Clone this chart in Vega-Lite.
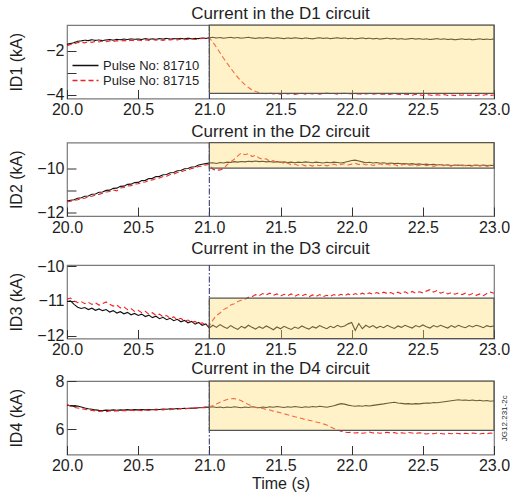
{
"$schema": "https://vega.github.io/schema/vega-lite/v6.json",
"background": "white",
"padding": {"left": 7, "top": 4, "right": 2, "bottom": 0},
"config": {
"font": "Liberation Sans",
"view": {"stroke": "#7a7a7a", "strokeWidth": 1.2},
"title": {"fontSize": 17, "fontWeight": "normal", "color": "#1e1e1e", "offset": 1, "frame": "group"},
"axis": {"grid": false, "domain": false, "tickSize": -9, "tickColor": "#333333", "tickWidth": 1, "labelPadding": 12, "labelFontSize": 16, "labelColor": "#1e1e1e", "titleFontSize": 16, "titleFontWeight": "normal", "titleColor": "#1e1e1e", "labelFlush": false, "labelOverlap": false},
"axisX": {"labelPadding": 12}
},
"resolve": {"scale": {"color": "independent", "strokeDash": "independent"}},
"spacing": 0,
"datasets": {
"d1a": [{"t":20,"v":-1.72},{"t":20.025,"v":-1.68},{"t":20.05,"v":-1.64},{"t":20.075,"v":-1.58},{"t":20.1,"v":-1.56},{"t":20.125,"v":-1.53},{"t":20.15,"v":-1.55},{"t":20.175,"v":-1.51},{"t":20.2,"v":-1.54},{"t":20.225,"v":-1.52},
{"t":20.25,"v":-1.55},{"t":20.275,"v":-1.52},{"t":20.3,"v":-1.50},{"t":20.325,"v":-1.53},{"t":20.35,"v":-1.49},{"t":20.375,"v":-1.51},{"t":20.4,"v":-1.48},{"t":20.425,"v":-1.50},{"t":20.45,"v":-1.47},{"t":20.475,"v":-1.49},
{"t":20.5,"v":-1.48},{"t":20.525,"v":-1.50},{"t":20.55,"v":-1.46},{"t":20.575,"v":-1.49},{"t":20.6,"v":-1.47},{"t":20.625,"v":-1.49},{"t":20.65,"v":-1.46},{"t":20.675,"v":-1.48},{"t":20.7,"v":-1.45},{"t":20.725,"v":-1.48},
{"t":20.75,"v":-1.46},{"t":20.775,"v":-1.47},{"t":20.8,"v":-1.45},{"t":20.825,"v":-1.47},{"t":20.85,"v":-1.44},{"t":20.875,"v":-1.47},{"t":20.9,"v":-1.45},{"t":20.925,"v":-1.46},{"t":20.95,"v":-1.43},{"t":20.975,"v":-1.45},
{"t":21,"v":-1.42},{"t":21.025,"v":-1.40},{"t":21.05,"v":-1.43},{"t":21.075,"v":-1.41},{"t":21.1,"v":-1.44},{"t":21.125,"v":-1.42},{"t":21.15,"v":-1.40},{"t":21.175,"v":-1.43},{"t":21.2,"v":-1.41},{"t":21.225,"v":-1.44},
{"t":21.25,"v":-1.42},{"t":21.275,"v":-1.40},{"t":21.3,"v":-1.43},{"t":21.325,"v":-1.45},{"t":21.35,"v":-1.42},{"t":21.375,"v":-1.44},{"t":21.4,"v":-1.41},{"t":21.425,"v":-1.43},{"t":21.45,"v":-1.45},{"t":21.475,"v":-1.42},
{"t":21.5,"v":-1.44},{"t":21.525,"v":-1.46},{"t":21.55,"v":-1.43},{"t":21.575,"v":-1.45},{"t":21.6,"v":-1.42},{"t":21.625,"v":-1.44},{"t":21.65,"v":-1.46},{"t":21.675,"v":-1.43},{"t":21.7,"v":-1.45},{"t":21.725,"v":-1.47},
{"t":21.75,"v":-1.44},{"t":21.775,"v":-1.42},{"t":21.8,"v":-1.45},{"t":21.825,"v":-1.43},{"t":21.85,"v":-1.46},{"t":21.875,"v":-1.44},{"t":21.9,"v":-1.42},{"t":21.925,"v":-1.45},{"t":21.95,"v":-1.43},{"t":21.975,"v":-1.46},
{"t":22,"v":-1.44},{"t":22.025,"v":-1.47},{"t":22.05,"v":-1.45},{"t":22.075,"v":-1.43},{"t":22.1,"v":-1.46},{"t":22.125,"v":-1.44},{"t":22.15,"v":-1.47},{"t":22.175,"v":-1.45},{"t":22.2,"v":-1.48},{"t":22.225,"v":-1.46},
{"t":22.25,"v":-1.44},{"t":22.275,"v":-1.47},{"t":22.3,"v":-1.45},{"t":22.325,"v":-1.48},{"t":22.35,"v":-1.46},{"t":22.375,"v":-1.49},{"t":22.4,"v":-1.47},{"t":22.425,"v":-1.45},{"t":22.45,"v":-1.48},{"t":22.475,"v":-1.46},
{"t":22.5,"v":-1.49},{"t":22.525,"v":-1.47},{"t":22.55,"v":-1.50},{"t":22.575,"v":-1.48},{"t":22.6,"v":-1.46},{"t":22.625,"v":-1.49},{"t":22.65,"v":-1.47},{"t":22.675,"v":-1.50},{"t":22.7,"v":-1.48},{"t":22.725,"v":-1.51},
{"t":22.75,"v":-1.49},{"t":22.775,"v":-1.47},{"t":22.8,"v":-1.50},{"t":22.825,"v":-1.48},{"t":22.85,"v":-1.51},{"t":22.875,"v":-1.49},{"t":22.9,"v":-1.47},{"t":22.925,"v":-1.50},{"t":22.95,"v":-1.48},{"t":22.975,"v":-1.50},
{"t":23,"v":-1.47}],
"d1b": [{"t":20,"v":-1.78},{"t":20.025,"v":-1.72},{"t":20.05,"v":-1.70},{"t":20.075,"v":-1.64},{"t":20.1,"v":-1.62},{"t":20.125,"v":-1.65},{"t":20.15,"v":-1.60},{"t":20.175,"v":-1.63},{"t":20.2,"v":-1.58},{"t":20.225,"v":-1.61},
{"t":20.25,"v":-1.57},{"t":20.275,"v":-1.60},{"t":20.3,"v":-1.56},{"t":20.325,"v":-1.59},{"t":20.35,"v":-1.55},{"t":20.375,"v":-1.58},{"t":20.4,"v":-1.54},{"t":20.425,"v":-1.57},{"t":20.45,"v":-1.53},{"t":20.475,"v":-1.56},
{"t":20.5,"v":-1.52},{"t":20.525,"v":-1.55},{"t":20.55,"v":-1.51},{"t":20.575,"v":-1.54},{"t":20.6,"v":-1.50},{"t":20.625,"v":-1.53},{"t":20.65,"v":-1.51},{"t":20.675,"v":-1.54},{"t":20.7,"v":-1.50},{"t":20.725,"v":-1.52},
{"t":20.75,"v":-1.49},{"t":20.775,"v":-1.52},{"t":20.8,"v":-1.48},{"t":20.825,"v":-1.51},{"t":20.85,"v":-1.49},{"t":20.875,"v":-1.47},{"t":20.9,"v":-1.50},{"t":20.925,"v":-1.47},{"t":20.95,"v":-1.45},{"t":20.975,"v":-1.43},
{"t":21,"v":-1.42},{"t":21.025,"v":-1.62},{"t":21.05,"v":-1.85},{"t":21.075,"v":-2.10},{"t":21.1,"v":-2.35},{"t":21.125,"v":-2.58},{"t":21.15,"v":-2.80},{"t":21.175,"v":-3.02},{"t":21.2,"v":-3.22},{"t":21.225,"v":-3.40},
{"t":21.25,"v":-3.55},{"t":21.275,"v":-3.68},{"t":21.3,"v":-3.79},{"t":21.325,"v":-3.86},{"t":21.35,"v":-3.91},{"t":21.375,"v":-3.94},{"t":21.4,"v":-3.96},{"t":21.425,"v":-3.93},{"t":21.45,"v":-3.97},{"t":21.475,"v":-3.95},
{"t":21.5,"v":-3.98},{"t":21.525,"v":-3.94},{"t":21.55,"v":-3.97},{"t":21.575,"v":-3.95},{"t":21.6,"v":-3.99},{"t":21.625,"v":-3.96},{"t":21.65,"v":-3.94},{"t":21.675,"v":-3.98},{"t":21.7,"v":-3.95},{"t":21.725,"v":-3.97},
{"t":21.75,"v":-3.94},{"t":21.775,"v":-3.98},{"t":21.8,"v":-3.96},{"t":21.825,"v":-3.93},{"t":21.85,"v":-3.97},{"t":21.875,"v":-3.95},{"t":21.9,"v":-3.98},{"t":21.925,"v":-3.96},{"t":21.95,"v":-3.94},{"t":21.975,"v":-3.97},
{"t":22,"v":-3.95},{"t":22.025,"v":-3.98},{"t":22.05,"v":-3.96},{"t":22.075,"v":-3.99},{"t":22.1,"v":-3.97},{"t":22.125,"v":-3.95},{"t":22.15,"v":-3.98},{"t":22.175,"v":-3.96},{"t":22.2,"v":-3.99},{"t":22.225,"v":-3.97},
{"t":22.25,"v":-4.00},{"t":22.275,"v":-3.98},{"t":22.3,"v":-3.96},{"t":22.325,"v":-3.99},{"t":22.35,"v":-4.01},{"t":22.375,"v":-3.98},{"t":22.4,"v":-4.00},{"t":22.425,"v":-4.03},{"t":22.45,"v":-3.99},{"t":22.475,"v":-4.01},
{"t":22.5,"v":-4.04},{"t":22.525,"v":-4.00},{"t":22.55,"v":-4.02},{"t":22.575,"v":-4.05},{"t":22.6,"v":-4.01},{"t":22.625,"v":-4.03},{"t":22.65,"v":-4.00},{"t":22.675,"v":-4.04},{"t":22.7,"v":-4.02},{"t":22.725,"v":-4.05},
{"t":22.75,"v":-4.01},{"t":22.775,"v":-4.03},{"t":22.8,"v":-4.00},{"t":22.825,"v":-4.04},{"t":22.85,"v":-4.02},{"t":22.875,"v":-4.05},{"t":22.9,"v":-4.01},{"t":22.925,"v":-4.03},{"t":22.95,"v":-4.00},{"t":22.975,"v":-4.04},
{"t":23,"v":-4.02}],
"d2a": [{"t":20,"v":-11.48},{"t":20.025,"v":-11.44},{"t":20.05,"v":-11.42},{"t":20.075,"v":-11.35},{"t":20.1,"v":-11.33},{"t":20.125,"v":-11.26},{"t":20.15,"v":-11.25},{"t":20.175,"v":-11.17},{"t":20.2,"v":-11.16},{"t":20.225,"v":-11.08},
{"t":20.25,"v":-11.07},{"t":20.275,"v":-11.00},{"t":20.3,"v":-10.99},{"t":20.325,"v":-10.91},{"t":20.35,"v":-10.90},{"t":20.375,"v":-10.82},{"t":20.4,"v":-10.81},{"t":20.425,"v":-10.73},{"t":20.45,"v":-10.72},{"t":20.475,"v":-10.65},
{"t":20.5,"v":-10.64},{"t":20.525,"v":-10.56},{"t":20.55,"v":-10.55},{"t":20.575,"v":-10.47},{"t":20.6,"v":-10.46},{"t":20.625,"v":-10.38},{"t":20.65,"v":-10.37},{"t":20.675,"v":-10.30},{"t":20.7,"v":-10.29},{"t":20.725,"v":-10.21},
{"t":20.75,"v":-10.20},{"t":20.775,"v":-10.12},{"t":20.8,"v":-10.11},{"t":20.825,"v":-10.03},{"t":20.85,"v":-10.02},{"t":20.875,"v":-9.95},{"t":20.9,"v":-9.94},{"t":20.925,"v":-9.86},{"t":20.95,"v":-9.83},{"t":20.975,"v":-9.80},
{"t":21,"v":-9.77},{"t":21.025,"v":-9.76},{"t":21.05,"v":-9.79},{"t":21.075,"v":-9.75},{"t":21.1,"v":-9.77},{"t":21.125,"v":-9.73},{"t":21.15,"v":-9.75},{"t":21.175,"v":-9.71},{"t":21.2,"v":-9.73},{"t":21.225,"v":-9.70},
{"t":21.25,"v":-9.72},{"t":21.275,"v":-9.69},{"t":21.3,"v":-9.71},{"t":21.325,"v":-9.68},{"t":21.35,"v":-9.71},{"t":21.375,"v":-9.69},{"t":21.4,"v":-9.72},{"t":21.425,"v":-9.70},{"t":21.45,"v":-9.73},{"t":21.475,"v":-9.71},
{"t":21.5,"v":-9.74},{"t":21.525,"v":-9.72},{"t":21.55,"v":-9.75},{"t":21.575,"v":-9.73},{"t":21.6,"v":-9.76},{"t":21.625,"v":-9.73},{"t":21.65,"v":-9.75},{"t":21.675,"v":-9.72},{"t":21.7,"v":-9.74},{"t":21.725,"v":-9.76},
{"t":21.75,"v":-9.73},{"t":21.775,"v":-9.75},{"t":21.8,"v":-9.77},{"t":21.825,"v":-9.74},{"t":21.85,"v":-9.76},{"t":21.875,"v":-9.73},{"t":21.9,"v":-9.75},{"t":21.925,"v":-9.77},{"t":21.95,"v":-9.74},{"t":21.975,"v":-9.70},
{"t":22,"v":-9.66},{"t":22.025,"v":-9.64},{"t":22.05,"v":-9.68},{"t":22.075,"v":-9.72},{"t":22.1,"v":-9.76},{"t":22.125,"v":-9.74},{"t":22.15,"v":-9.77},{"t":22.175,"v":-9.75},{"t":22.2,"v":-9.78},{"t":22.225,"v":-9.76},
{"t":22.25,"v":-9.79},{"t":22.275,"v":-9.77},{"t":22.3,"v":-9.80},{"t":22.325,"v":-9.78},{"t":22.35,"v":-9.81},{"t":22.375,"v":-9.79},{"t":22.4,"v":-9.82},{"t":22.425,"v":-9.80},{"t":22.45,"v":-9.83},{"t":22.475,"v":-9.81},
{"t":22.5,"v":-9.84},{"t":22.525,"v":-9.82},{"t":22.55,"v":-9.85},{"t":22.575,"v":-9.83},{"t":22.6,"v":-9.86},{"t":22.625,"v":-9.84},{"t":22.65,"v":-9.87},{"t":22.675,"v":-9.85},{"t":22.7,"v":-9.88},{"t":22.725,"v":-9.86},
{"t":22.75,"v":-9.88},{"t":22.775,"v":-9.86},{"t":22.8,"v":-9.89},{"t":22.825,"v":-9.87},{"t":22.85,"v":-9.89},{"t":22.875,"v":-9.86},{"t":22.9,"v":-9.88},{"t":22.925,"v":-9.86},{"t":22.95,"v":-9.89},{"t":22.975,"v":-9.87},
{"t":23,"v":-9.88}],
"d2b": [{"t":20,"v":-11.52},{"t":20.025,"v":-11.49},{"t":20.05,"v":-11.45},{"t":20.075,"v":-11.42},{"t":20.1,"v":-11.37},{"t":20.125,"v":-11.35},{"t":20.15,"v":-11.29},{"t":20.175,"v":-11.26},{"t":20.2,"v":-11.21},{"t":20.225,"v":-11.18},
{"t":20.25,"v":-11.13},{"t":20.275,"v":-11.07},{"t":20.3,"v":-11.05},{"t":20.325,"v":-10.98},{"t":20.35,"v":-11.02},{"t":20.375,"v":-10.89},{"t":20.4,"v":-10.87},{"t":20.425,"v":-10.80},{"t":20.45,"v":-10.79},{"t":20.475,"v":-10.72},
{"t":20.5,"v":-10.70},{"t":20.525,"v":-10.64},{"t":20.55,"v":-10.62},{"t":20.575,"v":-10.55},{"t":20.6,"v":-10.53},{"t":20.625,"v":-10.47},{"t":20.65,"v":-10.44},{"t":20.675,"v":-10.38},{"t":20.7,"v":-10.36},{"t":20.725,"v":-10.29},
{"t":20.75,"v":-10.27},{"t":20.775,"v":-10.20},{"t":20.8,"v":-10.18},{"t":20.825,"v":-10.11},{"t":20.85,"v":-10.08},{"t":20.875,"v":-10.02},{"t":20.9,"v":-9.99},{"t":20.925,"v":-9.93},{"t":20.95,"v":-9.91},{"t":20.975,"v":-9.86},
{"t":21,"v":-9.84},{"t":21.025,"v":-10.05},{"t":21.05,"v":-10.10},{"t":21.075,"v":-10.08},{"t":21.1,"v":-10.02},{"t":21.125,"v":-9.85},{"t":21.15,"v":-9.72},{"t":21.175,"v":-9.60},{"t":21.2,"v":-9.45},{"t":21.225,"v":-9.32},
{"t":21.25,"v":-9.40},{"t":21.275,"v":-9.35},{"t":21.3,"v":-9.48},{"t":21.325,"v":-9.42},{"t":21.35,"v":-9.55},{"t":21.375,"v":-9.60},{"t":21.4,"v":-9.58},{"t":21.425,"v":-9.70},{"t":21.45,"v":-9.66},{"t":21.475,"v":-9.75},
{"t":21.5,"v":-9.72},{"t":21.525,"v":-9.80},{"t":21.55,"v":-9.77},{"t":21.575,"v":-9.85},{"t":21.6,"v":-9.82},{"t":21.625,"v":-9.88},{"t":21.65,"v":-9.84},{"t":21.675,"v":-9.90},{"t":21.7,"v":-9.86},{"t":21.725,"v":-9.91},
{"t":21.75,"v":-9.85},{"t":21.775,"v":-9.89},{"t":21.8,"v":-9.84},{"t":21.825,"v":-9.90},{"t":21.85,"v":-9.86},{"t":21.875,"v":-9.82},{"t":21.9,"v":-9.88},{"t":21.925,"v":-9.84},{"t":21.95,"v":-9.80},{"t":21.975,"v":-9.86},
{"t":22,"v":-9.82},{"t":22.025,"v":-9.78},{"t":22.05,"v":-9.84},{"t":22.075,"v":-9.80},{"t":22.1,"v":-9.86},{"t":22.125,"v":-9.82},{"t":22.15,"v":-9.88},{"t":22.175,"v":-9.84},{"t":22.2,"v":-9.80},{"t":22.225,"v":-9.86},
{"t":22.25,"v":-9.82},{"t":22.275,"v":-9.88},{"t":22.3,"v":-9.84},{"t":22.325,"v":-9.90},{"t":22.35,"v":-9.86},{"t":22.375,"v":-9.82},{"t":22.4,"v":-9.88},{"t":22.425,"v":-9.85},{"t":22.45,"v":-9.91},{"t":22.475,"v":-9.87},
{"t":22.5,"v":-9.83},{"t":22.525,"v":-9.89},{"t":22.55,"v":-9.86},{"t":22.575,"v":-9.92},{"t":22.6,"v":-9.88},{"t":22.625,"v":-9.84},{"t":22.65,"v":-9.90},{"t":22.675,"v":-9.86},{"t":22.7,"v":-9.92},{"t":22.725,"v":-9.88},
{"t":22.75,"v":-9.85},{"t":22.775,"v":-9.91},{"t":22.8,"v":-9.87},{"t":22.825,"v":-9.93},{"t":22.85,"v":-9.89},{"t":22.875,"v":-9.85},{"t":22.9,"v":-9.91},{"t":22.925,"v":-9.87},{"t":22.95,"v":-9.92},{"t":22.975,"v":-9.88},
{"t":23,"v":-9.86}],
"d3a": [{"t":20,"v":-11.02},{"t":20.025,"v":-11.00},{"t":20.05,"v":-11.10},{"t":20.075,"v":-11.18},{"t":20.1,"v":-11.22},{"t":20.125,"v":-11.19},{"t":20.15,"v":-11.25},{"t":20.175,"v":-11.21},{"t":20.2,"v":-11.27},{"t":20.225,"v":-11.23},
{"t":20.25,"v":-11.28},{"t":20.275,"v":-11.25},{"t":20.3,"v":-11.32},{"t":20.325,"v":-11.28},{"t":20.35,"v":-11.35},{"t":20.375,"v":-11.31},{"t":20.4,"v":-11.37},{"t":20.425,"v":-11.33},{"t":20.45,"v":-11.40},{"t":20.475,"v":-11.36},
{"t":20.5,"v":-11.42},{"t":20.525,"v":-11.38},{"t":20.55,"v":-11.45},{"t":20.575,"v":-11.41},{"t":20.6,"v":-11.48},{"t":20.625,"v":-11.44},{"t":20.65,"v":-11.51},{"t":20.675,"v":-11.47},{"t":20.7,"v":-11.54},{"t":20.725,"v":-11.50},
{"t":20.75,"v":-11.57},{"t":20.775,"v":-11.53},{"t":20.8,"v":-11.60},{"t":20.825,"v":-11.56},{"t":20.85,"v":-11.63},{"t":20.875,"v":-11.59},{"t":20.9,"v":-11.67},{"t":20.925,"v":-11.62},{"t":20.95,"v":-11.70},{"t":20.975,"v":-11.66},
{"t":21,"v":-11.78},{"t":21.025,"v":-11.70},{"t":21.05,"v":-11.76},{"t":21.075,"v":-11.68},{"t":21.1,"v":-11.74},{"t":21.125,"v":-11.79},{"t":21.15,"v":-11.71},{"t":21.175,"v":-11.77},{"t":21.2,"v":-11.82},{"t":21.225,"v":-11.73},
{"t":21.25,"v":-11.78},{"t":21.275,"v":-11.70},{"t":21.3,"v":-11.76},{"t":21.325,"v":-11.81},{"t":21.35,"v":-11.74},{"t":21.375,"v":-11.79},{"t":21.4,"v":-11.72},{"t":21.425,"v":-11.77},{"t":21.45,"v":-11.83},{"t":21.475,"v":-11.75},
{"t":21.5,"v":-11.80},{"t":21.525,"v":-11.73},{"t":21.55,"v":-11.78},{"t":21.575,"v":-11.82},{"t":21.6,"v":-11.75},{"t":21.625,"v":-11.79},{"t":21.65,"v":-11.72},{"t":21.675,"v":-11.77},{"t":21.7,"v":-11.81},{"t":21.725,"v":-11.74},
{"t":21.75,"v":-11.78},{"t":21.775,"v":-11.71},{"t":21.8,"v":-11.76},{"t":21.825,"v":-11.80},{"t":21.85,"v":-11.73},{"t":21.875,"v":-11.77},{"t":21.9,"v":-11.70},{"t":21.925,"v":-11.75},{"t":21.95,"v":-11.72},{"t":21.975,"v":-11.66},
{"t":22,"v":-11.62},{"t":22.025,"v":-11.85},{"t":22.05,"v":-11.65},{"t":22.075,"v":-11.80},{"t":22.1,"v":-11.70},{"t":22.125,"v":-11.76},{"t":22.15,"v":-11.71},{"t":22.175,"v":-11.78},{"t":22.2,"v":-11.73},{"t":22.225,"v":-11.77},
{"t":22.25,"v":-11.70},{"t":22.275,"v":-11.75},{"t":22.3,"v":-11.79},{"t":22.325,"v":-11.72},{"t":22.35,"v":-11.76},{"t":22.375,"v":-11.70},{"t":22.4,"v":-11.74},{"t":22.425,"v":-11.78},{"t":22.45,"v":-11.71},{"t":22.475,"v":-11.75},
{"t":22.5,"v":-11.69},{"t":22.525,"v":-11.74},{"t":22.55,"v":-11.78},{"t":22.575,"v":-11.71},{"t":22.6,"v":-11.75},{"t":22.625,"v":-11.70},{"t":22.65,"v":-11.74},{"t":22.675,"v":-11.78},{"t":22.7,"v":-11.71},{"t":22.725,"v":-11.76},
{"t":22.75,"v":-11.70},{"t":22.775,"v":-11.74},{"t":22.8,"v":-11.77},{"t":22.825,"v":-11.71},{"t":22.85,"v":-11.75},{"t":22.875,"v":-11.70},{"t":22.9,"v":-11.73},{"t":22.925,"v":-11.77},{"t":22.95,"v":-11.71},{"t":22.975,"v":-11.74},
{"t":23,"v":-11.72}],
"d3b": [{"t":20,"v":-10.95},{"t":20.025,"v":-10.92},{"t":20.05,"v":-11.00},{"t":20.075,"v":-11.05},{"t":20.1,"v":-11.02},{"t":20.125,"v":-11.08},{"t":20.15,"v":-11.04},{"t":20.175,"v":-11.10},{"t":20.2,"v":-11.06},{"t":20.225,"v":-11.12},
{"t":20.25,"v":-11.08},{"t":20.275,"v":-11.03},{"t":20.3,"v":-11.10},{"t":20.325,"v":-11.15},{"t":20.35,"v":-11.12},{"t":20.375,"v":-11.20},{"t":20.4,"v":-11.17},{"t":20.425,"v":-11.25},{"t":20.45,"v":-11.22},{"t":20.475,"v":-11.30},
{"t":20.5,"v":-11.27},{"t":20.525,"v":-11.34},{"t":20.55,"v":-11.30},{"t":20.575,"v":-11.38},{"t":20.6,"v":-11.34},{"t":20.625,"v":-11.42},{"t":20.65,"v":-11.38},{"t":20.675,"v":-11.46},{"t":20.7,"v":-11.42},{"t":20.725,"v":-11.50},
{"t":20.75,"v":-11.46},{"t":20.775,"v":-11.54},{"t":20.8,"v":-11.50},{"t":20.825,"v":-11.58},{"t":20.85,"v":-11.55},{"t":20.875,"v":-11.62},{"t":20.9,"v":-11.59},{"t":20.925,"v":-11.66},{"t":20.95,"v":-11.63},{"t":20.975,"v":-11.70},
{"t":21,"v":-11.72},{"t":21.025,"v":-11.55},{"t":21.05,"v":-11.42},{"t":21.075,"v":-11.35},{"t":21.1,"v":-11.25},{"t":21.125,"v":-11.20},{"t":21.15,"v":-11.12},{"t":21.175,"v":-11.08},{"t":21.2,"v":-11.02},{"t":21.225,"v":-10.98},
{"t":21.25,"v":-10.95},{"t":21.275,"v":-10.90},{"t":21.3,"v":-10.88},{"t":21.325,"v":-10.82},{"t":21.35,"v":-10.85},{"t":21.375,"v":-10.79},{"t":21.4,"v":-10.83},{"t":21.425,"v":-10.78},{"t":21.45,"v":-10.84},{"t":21.475,"v":-10.80},
{"t":21.5,"v":-10.86},{"t":21.525,"v":-10.81},{"t":21.55,"v":-10.85},{"t":21.575,"v":-10.80},{"t":21.6,"v":-10.87},{"t":21.625,"v":-10.82},{"t":21.65,"v":-10.86},{"t":21.675,"v":-10.81},{"t":21.7,"v":-10.88},{"t":21.725,"v":-10.83},
{"t":21.75,"v":-10.87},{"t":21.775,"v":-10.82},{"t":21.8,"v":-10.88},{"t":21.825,"v":-10.84},{"t":21.85,"v":-10.87},{"t":21.875,"v":-10.82},{"t":21.9,"v":-10.86},{"t":21.925,"v":-10.81},{"t":21.95,"v":-10.85},{"t":21.975,"v":-10.80},
{"t":22,"v":-10.84},{"t":22.025,"v":-10.79},{"t":22.05,"v":-10.83},{"t":22.075,"v":-10.78},{"t":22.1,"v":-10.82},{"t":22.125,"v":-10.77},{"t":22.15,"v":-10.81},{"t":22.175,"v":-10.76},{"t":22.2,"v":-10.80},{"t":22.225,"v":-10.75},
{"t":22.25,"v":-10.79},{"t":22.275,"v":-10.76},{"t":22.3,"v":-10.81},{"t":22.325,"v":-10.75},{"t":22.35,"v":-10.80},{"t":22.375,"v":-10.74},{"t":22.4,"v":-10.79},{"t":22.425,"v":-10.73},{"t":22.45,"v":-10.78},{"t":22.475,"v":-10.74},
{"t":22.5,"v":-10.77},{"t":22.525,"v":-10.72},{"t":22.55,"v":-10.68},{"t":22.575,"v":-10.75},{"t":22.6,"v":-10.70},{"t":22.625,"v":-10.78},{"t":22.65,"v":-10.74},{"t":22.675,"v":-10.80},{"t":22.7,"v":-10.76},{"t":22.725,"v":-10.81},
{"t":22.75,"v":-10.77},{"t":22.775,"v":-10.82},{"t":22.8,"v":-10.78},{"t":22.825,"v":-10.83},{"t":22.85,"v":-10.79},{"t":22.875,"v":-10.84},{"t":22.9,"v":-10.80},{"t":22.925,"v":-10.85},{"t":22.95,"v":-10.79},{"t":22.975,"v":-10.75},
{"t":23,"v":-10.78}],
"d4a": [{"t":20,"v":7.00},{"t":20.025,"v":6.97},{"t":20.05,"v":6.94},{"t":20.075,"v":6.96},{"t":20.1,"v":6.92},{"t":20.125,"v":6.88},{"t":20.15,"v":6.85},{"t":20.175,"v":6.83},{"t":20.2,"v":6.80},{"t":20.225,"v":6.78},
{"t":20.25,"v":6.77},{"t":20.275,"v":6.79},{"t":20.3,"v":6.78},{"t":20.325,"v":6.80},{"t":20.35,"v":6.78},{"t":20.375,"v":6.80},{"t":20.4,"v":6.79},{"t":20.425,"v":6.81},{"t":20.45,"v":6.79},{"t":20.475,"v":6.81},
{"t":20.5,"v":6.80},{"t":20.525,"v":6.82},{"t":20.55,"v":6.80},{"t":20.575,"v":6.82},{"t":20.6,"v":6.81},{"t":20.625,"v":6.83},{"t":20.65,"v":6.82},{"t":20.675,"v":6.84},{"t":20.7,"v":6.83},{"t":20.725,"v":6.85},
{"t":20.75,"v":6.84},{"t":20.775,"v":6.86},{"t":20.8,"v":6.85},{"t":20.825,"v":6.87},{"t":20.85,"v":6.86},{"t":20.875,"v":6.88},{"t":20.9,"v":6.87},{"t":20.925,"v":6.89},{"t":20.95,"v":6.90},{"t":20.975,"v":6.92},
{"t":21,"v":6.91},{"t":21.025,"v":6.93},{"t":21.05,"v":6.90},{"t":21.075,"v":6.92},{"t":21.1,"v":6.89},{"t":21.125,"v":6.92},{"t":21.15,"v":6.90},{"t":21.175,"v":6.93},{"t":21.2,"v":6.91},{"t":21.225,"v":6.89},
{"t":21.25,"v":6.92},{"t":21.275,"v":6.90},{"t":21.3,"v":6.93},{"t":21.325,"v":6.91},{"t":21.35,"v":6.89},{"t":21.375,"v":6.92},{"t":21.4,"v":6.90},{"t":21.425,"v":6.93},{"t":21.45,"v":6.91},{"t":21.475,"v":6.94},
{"t":21.5,"v":6.92},{"t":21.525,"v":6.90},{"t":21.55,"v":6.93},{"t":21.575,"v":6.91},{"t":21.6,"v":6.94},{"t":21.625,"v":6.92},{"t":21.65,"v":6.90},{"t":21.675,"v":6.93},{"t":21.7,"v":6.91},{"t":21.725,"v":6.94},
{"t":21.75,"v":6.92},{"t":21.775,"v":6.95},{"t":21.8,"v":6.93},{"t":21.825,"v":6.91},{"t":21.85,"v":6.94},{"t":21.875,"v":6.97},{"t":21.9,"v":7.02},{"t":21.925,"v":7.06},{"t":21.95,"v":7.04},{"t":21.975,"v":7.00},
{"t":22,"v":6.97},{"t":22.025,"v":6.95},{"t":22.05,"v":6.97},{"t":22.075,"v":6.95},{"t":22.1,"v":6.98},{"t":22.125,"v":6.96},{"t":22.15,"v":6.99},{"t":22.175,"v":7.01},{"t":22.2,"v":7.03},{"t":22.225,"v":7.05},
{"t":22.25,"v":7.08},{"t":22.275,"v":7.10},{"t":22.3,"v":7.12},{"t":22.325,"v":7.09},{"t":22.35,"v":7.07},{"t":22.375,"v":7.05},{"t":22.4,"v":7.06},{"t":22.425,"v":7.04},{"t":22.45,"v":7.06},{"t":22.475,"v":7.05},
{"t":22.5,"v":7.07},{"t":22.525,"v":7.09},{"t":22.55,"v":7.08},{"t":22.575,"v":7.11},{"t":22.6,"v":7.10},{"t":22.625,"v":7.12},{"t":22.65,"v":7.14},{"t":22.675,"v":7.16},{"t":22.7,"v":7.18},{"t":22.725,"v":7.20},
{"t":22.75,"v":7.22},{"t":22.775,"v":7.20},{"t":22.8,"v":7.21},{"t":22.825,"v":7.19},{"t":22.85,"v":7.21},{"t":22.875,"v":7.18},{"t":22.9,"v":7.20},{"t":22.925,"v":7.17},{"t":22.95,"v":7.19},{"t":22.975,"v":7.16},
{"t":23,"v":7.18}],
"d4b": [{"t":20,"v":7.02},{"t":20.025,"v":6.95},{"t":20.05,"v":6.90},{"t":20.075,"v":6.88},{"t":20.1,"v":6.85},{"t":20.125,"v":6.83},{"t":20.15,"v":6.80},{"t":20.175,"v":6.78},{"t":20.2,"v":6.76},{"t":20.225,"v":6.74},
{"t":20.25,"v":6.75},{"t":20.275,"v":6.73},{"t":20.3,"v":6.76},{"t":20.325,"v":6.74},{"t":20.35,"v":6.77},{"t":20.375,"v":6.75},{"t":20.4,"v":6.78},{"t":20.425,"v":6.76},{"t":20.45,"v":6.79},{"t":20.475,"v":6.77},
{"t":20.5,"v":6.79},{"t":20.525,"v":6.77},{"t":20.55,"v":6.80},{"t":20.575,"v":6.78},{"t":20.6,"v":6.81},{"t":20.625,"v":6.79},{"t":20.65,"v":6.82},{"t":20.675,"v":6.80},{"t":20.7,"v":6.83},{"t":20.725,"v":6.81},
{"t":20.75,"v":6.84},{"t":20.775,"v":6.83},{"t":20.8,"v":6.86},{"t":20.825,"v":6.84},{"t":20.85,"v":6.87},{"t":20.875,"v":6.86},{"t":20.9,"v":6.89},{"t":20.925,"v":6.88},{"t":20.95,"v":6.90},{"t":20.975,"v":6.89},
{"t":21,"v":6.92},{"t":21.025,"v":6.98},{"t":21.05,"v":7.05},{"t":21.075,"v":7.12},{"t":21.1,"v":7.18},{"t":21.125,"v":7.23},{"t":21.15,"v":7.26},{"t":21.175,"v":7.27},{"t":21.2,"v":7.24},{"t":21.225,"v":7.18},
{"t":21.25,"v":7.10},{"t":21.275,"v":7.02},{"t":21.3,"v":6.95},{"t":21.325,"v":6.90},{"t":21.35,"v":6.88},{"t":21.375,"v":6.86},{"t":21.4,"v":6.82},{"t":21.425,"v":6.80},{"t":21.45,"v":6.75},{"t":21.475,"v":6.72},
{"t":21.5,"v":6.68},{"t":21.525,"v":6.64},{"t":21.55,"v":6.60},{"t":21.575,"v":6.56},{"t":21.6,"v":6.52},{"t":21.625,"v":6.48},{"t":21.65,"v":6.44},{"t":21.675,"v":6.40},{"t":21.7,"v":6.37},{"t":21.725,"v":6.34},
{"t":21.75,"v":6.30},{"t":21.775,"v":6.27},{"t":21.8,"v":6.22},{"t":21.825,"v":6.17},{"t":21.85,"v":6.10},{"t":21.875,"v":6.03},{"t":21.9,"v":5.97},{"t":21.925,"v":5.92},{"t":21.95,"v":5.88},{"t":21.975,"v":5.86},
{"t":22,"v":5.87},{"t":22.025,"v":5.84},{"t":22.05,"v":5.86},{"t":22.075,"v":5.83},{"t":22.1,"v":5.85},{"t":22.125,"v":5.88},{"t":22.15,"v":5.84},{"t":22.175,"v":5.86},{"t":22.2,"v":5.83},{"t":22.225,"v":5.85},
{"t":22.25,"v":5.87},{"t":22.275,"v":5.84},{"t":22.3,"v":5.86},{"t":22.325,"v":5.82},{"t":22.35,"v":5.85},{"t":22.375,"v":5.83},{"t":22.4,"v":5.86},{"t":22.425,"v":5.84},{"t":22.45,"v":5.82},{"t":22.475,"v":5.85},
{"t":22.5,"v":5.83},{"t":22.525,"v":5.80},{"t":22.55,"v":5.83},{"t":22.575,"v":5.81},{"t":22.6,"v":5.84},{"t":22.625,"v":5.82},{"t":22.65,"v":5.80},{"t":22.675,"v":5.83},{"t":22.7,"v":5.81},{"t":22.725,"v":5.84},
{"t":22.75,"v":5.82},{"t":22.775,"v":5.80},{"t":22.8,"v":5.83},{"t":22.825,"v":5.81},{"t":22.85,"v":5.84},{"t":22.875,"v":5.82},{"t":22.9,"v":5.80},{"t":22.925,"v":5.83},{"t":22.95,"v":5.81},{"t":22.975,"v":5.84},
{"t":23,"v":5.82}]
},
"vconcat": [
{
"spacing": 2.5,
"resolve": {"scale": {"color": "independent", "strokeDash": "independent"}},
"vconcat": [
{
"title": {"text": "Current in the D1 circuit", "offset": 1},
"width": 427, "height": 73.5,
"layer": [
{"data": {"values": [{}]}, "mark": {"type": "rule", "color": "#3b3b80", "strokeWidth": 1.1, "strokeDash": [6, 2, 1.5, 2]}, "encoding": {"x": {"datum": 21, "type": "quantitative", "scale": {"domain": [20, 23], "nice": false, "zero": false}, "axis": {"values": [20, 20.5, 21, 21.5, 22, 22.5, 23], "format": ".1f", "title": null}}}},
{"data": {"name": "d1a"}, "mark": {"type": "line", "strokeWidth": 1.1},
 "encoding": {
  "x": {"field": "t", "type": "quantitative", "scale": {"domain": [20, 23], "nice": false, "zero": false}, "axis": {"values": [20, 20.5, 21, 21.5, 22, 22.5, 23], "format": ".1f", "title": null}},
  "y": {"field": "v", "type": "quantitative", "scale": {"domain": [-4.18, -0.84], "nice": false, "zero": false}, "axis": {"values": [-4, -3, -2], "format": "d", "labelExpr": "datum.value % 2 == 0 ? datum.label : ''", "title": "ID1 (kA)", "minExtent": 39, "maxExtent": 39, "titlePadding": 4}},
  "color": {"datum": "Pulse No: 81710", "scale": {"domain": ["Pulse No: 81710", "Pulse No: 81715"], "range": ["#111111", "#ee2222"]}, "legend": {"orient": "bottom-left", "offset": 11, "title": null, "labelFontSize": 13, "labelColor": "#1e1e1e", "symbolType": "M-2,0H2", "symbolSize": 169, "symbolStrokeWidth": 1.5, "rowPadding": -1, "labelOffset": 10, "padding": 0}},
  "strokeDash": {"datum": "Pulse No: 81710", "scale": {"domain": ["Pulse No: 81710", "Pulse No: 81715"], "range": [[1, 0], [5, 3]]}, "legend": {"orient": "bottom-left", "offset": 11, "title": null, "labelFontSize": 13, "labelColor": "#1e1e1e", "symbolType": "M-2,0H2", "symbolSize": 169, "symbolStrokeWidth": 1.5, "rowPadding": -1, "labelOffset": 10, "padding": 0}}
 }},
{"data": {"name": "d1b"}, "mark": {"type": "line", "strokeWidth": 1.1},
 "encoding": {
  "x": {"field": "t", "type": "quantitative", "scale": {"domain": [20, 23], "nice": false, "zero": false}, "axis": {"values": [20, 20.5, 21, 21.5, 22, 22.5, 23], "format": ".1f", "title": null}},
  "y": {"field": "v", "type": "quantitative", "scale": {"domain": [-4.18, -0.84], "nice": false, "zero": false}, "axis": {"values": [-4, -3, -2], "format": "d", "labelExpr": "datum.value % 2 == 0 ? datum.label : ''", "title": "ID1 (kA)", "minExtent": 39, "maxExtent": 39, "titlePadding": 4}},
  "color": {"datum": "Pulse No: 81715"},
  "strokeDash": {"datum": "Pulse No: 81715"}
 }},
{"data": {"values": [{}]}, "mark": {"type": "rect", "fill": "#ffdc6e", "fillOpacity": 0.38, "stroke": "#555555", "strokeWidth": 1.2}, "encoding": {"x": {"datum": 21, "type": "quantitative", "scale": {"domain": [20, 23], "nice": false, "zero": false}, "axis": {"values": [20, 20.5, 21, 21.5, 22, 22.5, 23], "format": ".1f", "title": null}}, "x2": {"datum": 23}, "y": {"datum": -3.95, "type": "quantitative", "scale": {"domain": [-4.18, -0.84], "nice": false, "zero": false}, "axis": {"values": [-4, -3, -2], "format": "d", "labelExpr": "datum.value % 2 == 0 ? datum.label : ''", "title": "ID1 (kA)", "minExtent": 39, "maxExtent": 39, "titlePadding": 4}}, "y2": {"datum": -0.84}}}
]
},
{
"title": {"text": "Current in the D2 circuit", "offset": 1},
"width": 427, "height": 73.5,
"layer": [
{"data": {"values": [{}]}, "mark": {"type": "rule", "color": "#3b3b80", "strokeWidth": 1.1, "strokeDash": [6, 2, 1.5, 2]}, "encoding": {"x": {"datum": 21, "type": "quantitative", "scale": {"domain": [20, 23], "nice": false, "zero": false}, "axis": {"values": [20, 20.5, 21, 21.5, 22, 22.5, 23], "format": ".1f", "title": null}}}},
{"data": {"name": "d2a"}, "mark": {"type": "line", "color": "#111111", "strokeWidth": 1.1},
 "encoding": {
  "x": {"field": "t", "type": "quantitative", "scale": {"domain": [20, 23], "nice": false, "zero": false}, "axis": {"values": [20, 20.5, 21, 21.5, 22, 22.5, 23], "format": ".1f", "title": null}},
  "y": {"field": "v", "type": "quantitative", "scale": {"domain": [-12.15, -8.85], "nice": false, "zero": false}, "axis": {"values": [-12, -11, -10], "format": "d", "labelExpr": "datum.value % 2 == 0 ? datum.label : ''", "title": "ID2 (kA)", "minExtent": 39, "maxExtent": 39, "titlePadding": 4}}
 }},
{"data": {"name": "d2b"}, "mark": {"type": "line", "color": "#ee2222", "strokeWidth": 1.1, "strokeDash": [5, 3]},
 "encoding": {
  "x": {"field": "t", "type": "quantitative", "scale": {"domain": [20, 23], "nice": false, "zero": false}, "axis": {"values": [20, 20.5, 21, 21.5, 22, 22.5, 23], "format": ".1f", "title": null}},
  "y": {"field": "v", "type": "quantitative", "scale": {"domain": [-12.15, -8.85], "nice": false, "zero": false}, "axis": {"values": [-12, -11, -10], "format": "d", "labelExpr": "datum.value % 2 == 0 ? datum.label : ''", "title": "ID2 (kA)", "minExtent": 39, "maxExtent": 39, "titlePadding": 4}}
 }},
{"data": {"values": [{}]}, "mark": {"type": "rect", "fill": "#ffdc6e", "fillOpacity": 0.38, "stroke": "#555555", "strokeWidth": 1.2}, "encoding": {"x": {"datum": 21, "type": "quantitative", "scale": {"domain": [20, 23], "nice": false, "zero": false}, "axis": {"values": [20, 20.5, 21, 21.5, 22, 22.5, 23], "format": ".1f", "title": null}}, "x2": {"datum": 23}, "y": {"datum": -10, "type": "quantitative", "scale": {"domain": [-12.15, -8.85], "nice": false, "zero": false}, "axis": {"values": [-12, -11, -10], "format": "d", "labelExpr": "datum.value % 2 == 0 ? datum.label : ''", "title": "ID2 (kA)", "minExtent": 39, "maxExtent": 39, "titlePadding": 4}}, "y2": {"datum": -8.85}}}
]
},
{
"title": {"text": "Current in the D3 circuit", "offset": 0},
"width": 427, "height": 73.5,
"layer": [
{"data": {"values": [{}]}, "mark": {"type": "rule", "color": "#3b3b80", "strokeWidth": 1.1, "strokeDash": [6, 2, 1.5, 2]}, "encoding": {"x": {"datum": 21, "type": "quantitative", "scale": {"domain": [20, 23], "nice": false, "zero": false}, "axis": {"values": [20, 20.5, 21, 21.5, 22, 22.5, 23], "format": ".1f", "title": null}}}},
{"data": {"name": "d3a"}, "mark": {"type": "line", "color": "#111111", "strokeWidth": 1.1},
 "encoding": {
  "x": {"field": "t", "type": "quantitative", "scale": {"domain": [20, 23], "nice": false, "zero": false}, "axis": {"values": [20, 20.5, 21, 21.5, 22, 22.5, 23], "format": ".1f", "title": null}},
  "y": {"field": "v", "type": "quantitative", "scale": {"domain": [-12.08, -9.97], "nice": false, "zero": false}, "axis": {"values": [-12, -11, -10], "format": ".0f", "labelOverlap": false, "labelBound": false, "title": "ID3 (kA)", "minExtent": 39, "maxExtent": 39, "titlePadding": 4}}
 }},
{"data": {"name": "d3b"}, "mark": {"type": "line", "color": "#ee2222", "strokeWidth": 1.1, "strokeDash": [5, 3]},
 "encoding": {
  "x": {"field": "t", "type": "quantitative", "scale": {"domain": [20, 23], "nice": false, "zero": false}, "axis": {"values": [20, 20.5, 21, 21.5, 22, 22.5, 23], "format": ".1f", "title": null}},
  "y": {"field": "v", "type": "quantitative", "scale": {"domain": [-12.08, -9.97], "nice": false, "zero": false}, "axis": {"values": [-12, -11, -10], "format": ".0f", "labelOverlap": false, "labelBound": false, "title": "ID3 (kA)", "minExtent": 39, "maxExtent": 39, "titlePadding": 4}}
 }},
{"data": {"values": [{}]}, "mark": {"type": "rect", "fill": "#ffdc6e", "fillOpacity": 0.38, "stroke": "#555555", "strokeWidth": 1.2}, "encoding": {"x": {"datum": 21, "type": "quantitative", "scale": {"domain": [20, 23], "nice": false, "zero": false}, "axis": {"values": [20, 20.5, 21, 21.5, 22, 22.5, 23], "format": ".1f", "title": null}}, "x2": {"datum": 23}, "y": {"datum": -12.08, "type": "quantitative", "scale": {"domain": [-12.08, -9.97], "nice": false, "zero": false}, "axis": {"values": [-12, -11, -10], "format": ".0f", "labelOverlap": false, "labelBound": false, "title": "ID3 (kA)", "minExtent": 39, "maxExtent": 39, "titlePadding": 4}}, "y2": {"datum": -10.92}}}
]
}
]
},
{
"title": {"text": "Current in the D4 circuit", "offset": -5},
"width": 427, "height": 73.5,
"resolve": {"axis": {"y": "independent"}},
"layer": [
{"data": {"values": [{}]}, "mark": {"type": "rule", "color": "#3b3b80", "strokeWidth": 1.1, "strokeDash": [6, 2, 1.5, 2]}, "encoding": {"x": {"datum": 21, "type": "quantitative", "scale": {"domain": [20, 23], "nice": false, "zero": false}, "axis": {"values": [20, 20.5, 21, 21.5, 22, 22.5, 23], "format": ".1f", "title": "Time (s)", "titlePadding": 2}}}},
{"data": {"name": "d4a"}, "mark": {"type": "line", "color": "#111111", "strokeWidth": 1.1},
 "encoding": {
  "x": {"field": "t", "type": "quantitative", "scale": {"domain": [20, 23], "nice": false, "zero": false}, "axis": {"values": [20, 20.5, 21, 21.5, 22, 22.5, 23], "format": ".1f", "title": "Time (s)", "titlePadding": 2}},
  "y": {"field": "v", "type": "quantitative", "scale": {"domain": [4.95, 8], "nice": false, "zero": false}, "axis": {"values": [6, 7, 8], "format": "d", "labelExpr": "datum.value % 2 == 0 ? datum.label : ''", "title": "ID4 (kA)", "minExtent": 39, "maxExtent": 39, "titlePadding": 4}}
 }},
{"data": {"name": "d4b"}, "mark": {"type": "line", "color": "#ee2222", "strokeWidth": 1.1, "strokeDash": [5, 3]},
 "encoding": {
  "x": {"field": "t", "type": "quantitative", "scale": {"domain": [20, 23], "nice": false, "zero": false}, "axis": {"values": [20, 20.5, 21, 21.5, 22, 22.5, 23], "format": ".1f", "title": "Time (s)", "titlePadding": 2}},
  "y": {"field": "v", "type": "quantitative", "scale": {"domain": [4.95, 8], "nice": false, "zero": false}, "axis": null}
 }},
{"data": {"values": [{}]}, "mark": {"type": "rect", "fill": "#ffdc6e", "fillOpacity": 0.38, "stroke": "#555555", "strokeWidth": 1.2}, "encoding": {"x": {"datum": 21, "type": "quantitative", "scale": {"domain": [20, 23], "nice": false, "zero": false}, "axis": {"values": [20, 20.5, 21, 21.5, 22, 22.5, 23], "format": ".1f", "title": "Time (s)", "titlePadding": 2}}, "x2": {"datum": 23}, "y": {"datum": 5.95, "type": "quantitative", "scale": {"domain": [4.95, 8], "nice": false, "zero": false}, "axis": {"orient": "right", "title": "JG12.231-2c", "titleFontSize": 8, "titleAngle": 270, "titleBaseline": "top", "titlePadding": 6, "labels": false, "ticks": false, "domain": false, "minExtent": 0, "maxExtent": 0}}, "y2": {"datum": 8}}}
]
}
]
}
